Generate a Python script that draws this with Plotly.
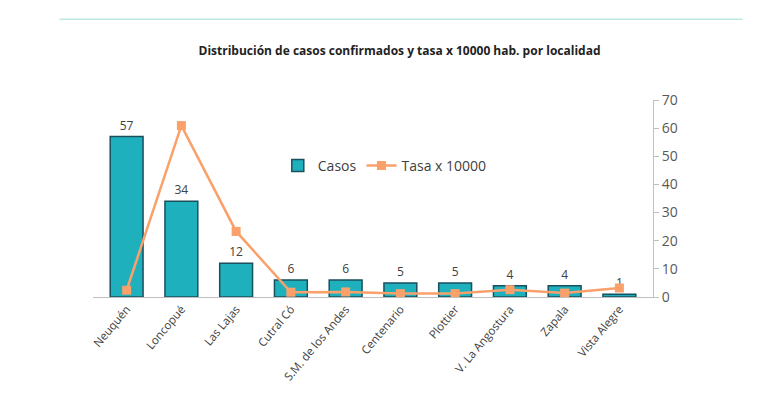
import plotly.graph_objects as go

cats = ["Neuquén","Loncopué","Las Lajas","Cutral Có","S.M. de los Andes","Centenario","Plottier","V. La Angostura","Zapala","Vista Alegre"]
casos = [57,34,12,6,6,5,5,4,4,1]
tasa = [2.4,60.9,23.3,1.7,1.8,1.2,1.2,2.6,1.4,3.2]

fig = go.Figure()
fig.add_bar(x=cats, y=casos, name="Casos", marker=dict(color="#1fb0bd", line=dict(color="#1a4f5e", width=1.5)),
            text=[str(v) for v in casos], textposition="outside", textfont=dict(color="#404040", size=12), cliponaxis=False, width=0.6)
fig.add_scatter(x=cats, y=tasa, name="Tasa x 10000", mode="lines+markers",
                line=dict(color="#f9a06b", width=2.5), marker=dict(symbol="square", size=9, color="#f9a06b"))
fig.update_layout(
    width=783, height=406, plot_bgcolor="white", paper_bgcolor="white",
    margin=dict(l=85, r=138, t=92, b=117),
    font=dict(family="Open Sans", color="#404040"),
    title=dict(text="<b>Distribución de casos confirmados y tasa x 10000 hab. por localidad</b>", x=0.5, xanchor="center", y=0.895, yanchor="middle", font=dict(size=12, color="#222")),
    showlegend=True, legend=dict(orientation="h", x=0.33, y=0.665, xanchor="left", yanchor="middle", font=dict(size=14, color="#404040"), bgcolor="rgba(0,0,0,0)"),
    shapes=[dict(type="line", xref="paper", yref="paper", x0=-0.06, x1=1.16, y0=1.41, y1=1.41, line=dict(color="#bfe9e4", width=1.5))],
)
fig.update_xaxes(tickangle=-50, tickfont=dict(size=11.5, color="#404040"), showline=True, linecolor="#bfbfbf", ticks="")
fig.update_yaxes(side="right", range=[0,70], dtick=10, showgrid=False, showline=True, linecolor="#bfbfbf", ticks="outside", tickcolor="#bfbfbf", ticklen=5, tickfont=dict(size=14, color="#595959"), zeroline=False)
fig.write_html("out.html")
